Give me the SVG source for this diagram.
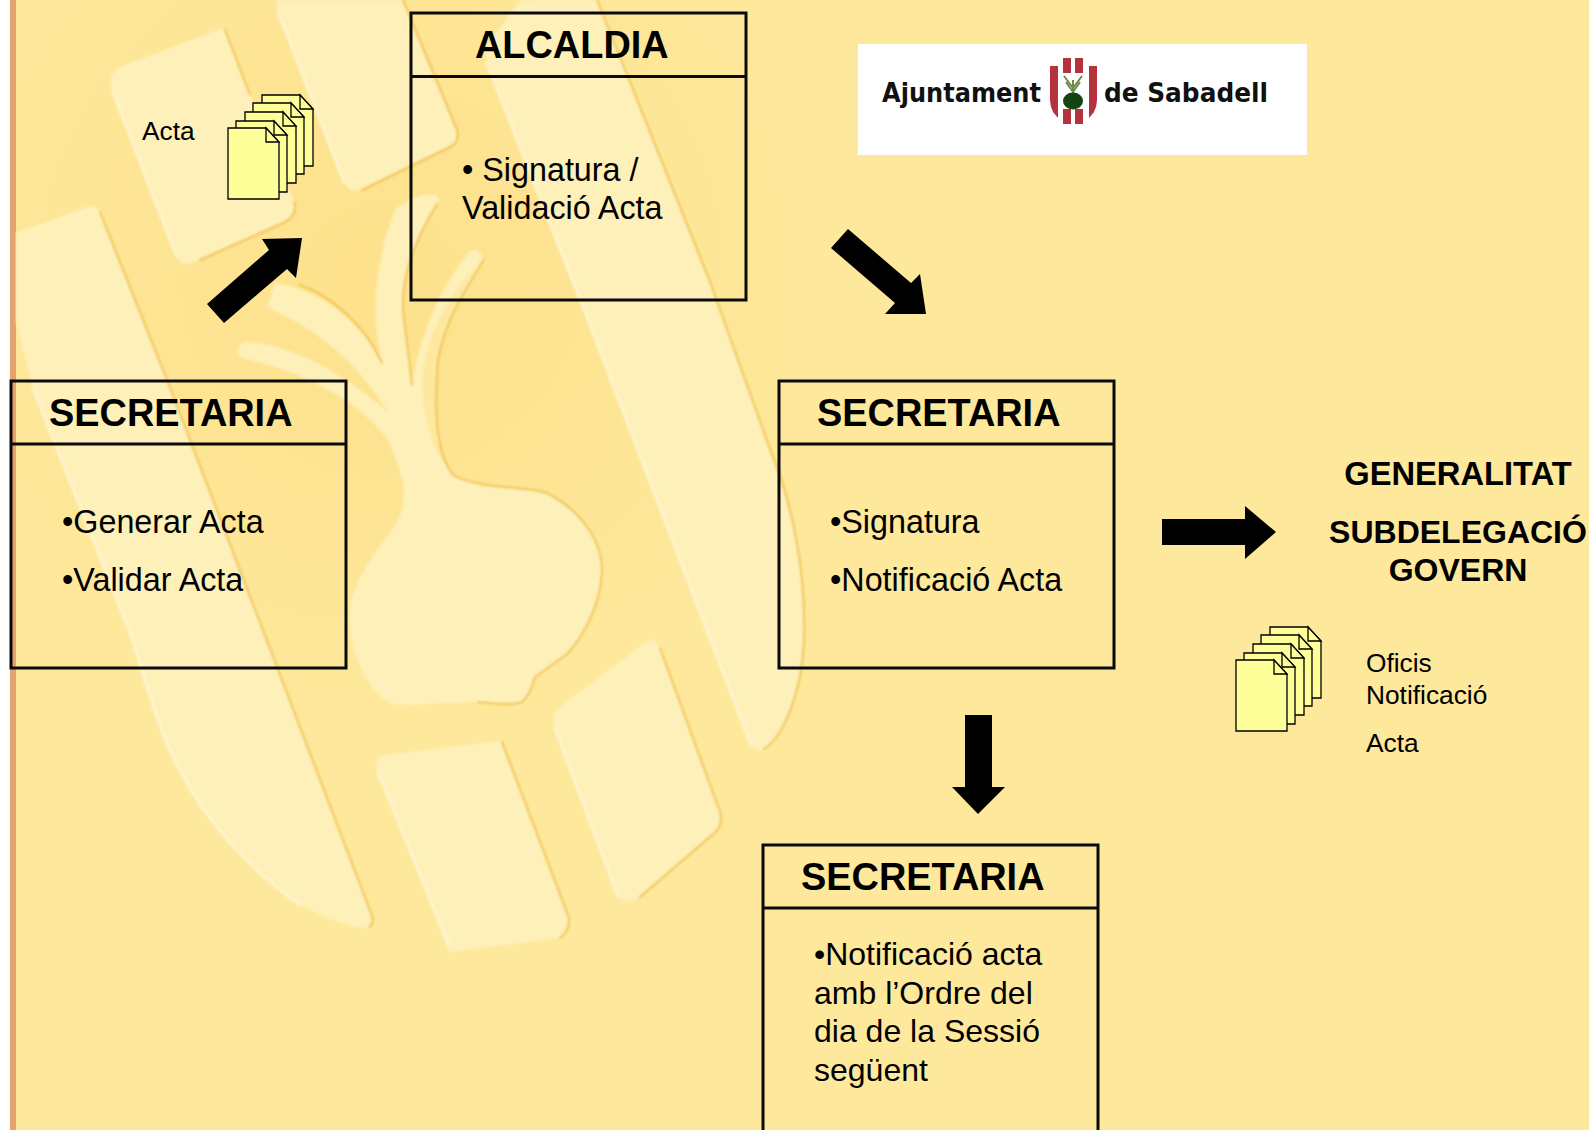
<svg xmlns="http://www.w3.org/2000/svg" width="1589" height="1130" viewBox="0 0 1589 1130">
<style>
text{font-family:"Liberation Sans",Arial,sans-serif;fill:#000}
.h{font-size:37.9px;font-weight:700}
.b{font-size:32.3px}
.n{font-size:32px}
.s{font-size:26.3px}
.g{font-size:32px;font-weight:700;text-anchor:middle}
.box{fill:none;stroke:#0a0a0a;stroke-width:3}
.wm{fill:#fef0b9}
.gap{fill:#fee8a0}
.edge{fill:none;stroke:#f1c451;stroke-width:2;stroke-linecap:round;stroke-linejoin:round}
.lite{fill:none;stroke:#fff5cf;stroke-width:3;stroke-linecap:round;stroke-linejoin:round}
.arrow{fill:#000}
.pg{fill:#ffff99;stroke:#000;stroke-width:1.3}
.logo{font-family:"DejaVu Sans",sans-serif;font-size:26px;font-weight:700;fill:#111}
.red{fill:#b5323f}
</style>
<defs>
<radialGradient id="shade" gradientUnits="userSpaceOnUse" cx="380" cy="280" r="450">
<stop offset="0" stop-color="#fde18c"/>
<stop offset="1" stop-color="#fee89b"/>
</radialGradient>
<filter id="soft" x="-5%" y="-5%" width="110%" height="110%"><feGaussianBlur stdDeviation="1.1"/></filter>
<g id="page"><path class="pg" d="M0,0H38L51,14V71H0Z"/><path class="pg" d="M38,0L51,14H38Z"/></g>
<g id="stack">
<use href="#page" x="34" y="-33"/>
<use href="#page" x="25" y="-25"/>
<use href="#page" x="17" y="-16"/>
<use href="#page" x="8" y="-7"/>
<use href="#page" x="0" y="0"/>
</g>
</defs>

<g id="background">
<rect width="1589" height="1130" fill="#fee89b"/>
<rect x="10" width="890" height="1000" fill="url(#shade)"/>
<rect x="0" width="10" height="1130" fill="#fff"/>
<rect x="10" width="6" height="1130" fill="#e6a26c"/>
<g filter="url(#soft)">
<path class="wm" d="M90,206L16,233V322L33,388L133,640C150,700 165,745 180,770C205,820 250,870 300,905C325,918 345,925 363,928Q374,928 372,916L277,667L167,380L102,216Q98,204 90,206Z"/>
<path class="edge" d="M100,212L167,380L277,667L372,916Q374,924 369,927"/>
<path class="lite" d="M33,388L133,640C150,700 165,745 180,770C205,820 250,870 300,905"/>
<path class="wm" d="M223,28L122,66Q106,74 112,90L176,257Q182,268 195,262L285,222Q298,215 294,202Z"/>
<path class="edge" d="M225,30L250,95M294,202Q298,215 285,222L200,260"/>
<path class="lite" d="M113,92L176,255"/>
<path class="wm" d="M277,0H403L457,130Q460,142 450,147L360,190Q350,194 344,182L277,12Z"/>
<path class="edge" d="M403,0L457,130Q460,142 450,147L362,190"/>
<path class="lite" d="M279,14L344,182"/>
<path class="wm" d="M597,0H520L484,50L751,745Q756,752 764,749C785,735 802,690 804,640C806,580 795,510 771,452L710,282Z"/>
<path class="edge" d="M597,0L710,282L771,452C795,510 806,580 804,640C802,690 785,735 764,749"/>
<path class="lite" d="M487,63L587,317L751,745"/>
<path class="wm" d="M470,251Q478,248 484,259C465,290 445,320 438,360C433,420 438,455 453,475C480,490 520,485 547,493C580,510 602,540 602,571C600,610 580,640 567,654L535,677Q530,695 522,702C505,708 490,700 478,702C450,702 420,706 392,704C365,690 349,650 349,617C352,570 390,540 400,516C408,490 404,479 388,440C360,400 300,370 241,358Q232,348 245,342C300,345 350,380 388,412C365,375 330,335 267,307L275,283C320,290 360,320 382,363C372,320 372,270 395,210Q420,190 437,196Q442,200 437,206C415,240 398,280 404,319L412,385C420,330 445,280 470,251Z"/>
<path class="gap" d="M478,264C462,290 445,320 438,360C433,400 437,445 450,470C432,450 423,420 422,385C424,340 445,300 478,264Z"/>
<path class="edge" d="M484,259C465,290 445,320 438,360C433,420 438,455 453,475C480,490 520,485 547,493C580,510 602,540 602,571C600,610 580,640 567,654L535,677Q530,695 522,702C510,706 495,703 478,702"/>
<path class="edge" d="M437,204C415,240 398,280 404,319L412,385"/>
<path class="edge" d="M300,285C330,295 365,325 382,363"/>
<path class="wm" d="M500,741L385,755Q372,758 378,772L449,952L560,938Q572,930 569,918Z"/>
<path class="edge" d="M502,742L569,918Q570,930 560,938"/>
<path class="lite" d="M378,772L449,945"/>
<path class="wm" d="M649,640L558,708Q550,716 555,728L618,896Q624,904 636,899L712,835Q724,826 720,812L660,648Q654,638 649,640Z"/>
<path class="edge" d="M660,648L720,812Q724,826 712,835L640,897"/>
<path class="lite" d="M555,728L618,896"/>
</g>
</g>

<g id="logo">
<rect x="858" y="44" width="449" height="111" fill="#fff"/>
<text class="logo" x="882" y="102" textLength="159" lengthAdjust="spacingAndGlyphs">Ajuntament</text>
<text class="logo" x="1104" y="102" textLength="164" lengthAdjust="spacingAndGlyphs">de Sabadell</text>
<path class="red" d="M1050,66H1058V118L1053,112Q1050,106 1050,100Z"/>
<path class="red" d="M1089,66H1097V100Q1097,106 1094,112L1089,118Z"/>
<rect class="red" x="1063" y="58" width="8" height="15"/>
<rect class="red" x="1075" y="58" width="8" height="15"/>
<rect class="red" x="1063" y="109" width="8" height="15"/>
<rect class="red" x="1075" y="109" width="8" height="15"/>
<path d="M1073,95V80M1073,88L1064,76M1073,88L1082,76M1073,92L1066,82M1073,92L1080,82" fill="none" stroke="#6f8a4a" stroke-width="2"/>
<ellipse cx="1073" cy="101" rx="10" ry="8.5" fill="#124512"/>
</g>

<g id="connectors">
<polygon class="arrow" points="302,238 262,239 269,250 207,304 224,323 287,269 296,278"/>
<polygon class="arrow" points="848,229 911,283 920,274 926,314 885,314 895,303 831,248"/>
<polygon class="arrow" points="1162,519 1245,519 1245,506 1276,532 1245,559 1245,545 1162,545"/>
<polygon class="arrow" points="965,715 992,715 992,787 1005,787 978,814 952,787 965,787"/>
</g>

<g id="alcaldia">
<rect class="box" x="411" y="13" width="335" height="287"/>
<line class="box" x1="411" y1="76.5" x2="746" y2="76.5"/>
<text class="h" x="475" y="58">ALCALDIA</text>
<text class="b" x="462" y="181">• Signatura /</text>
<text class="b" x="462" y="219">Validació Acta</text>
</g>

<g id="secretaria-1">
<rect class="box" x="11" y="381" width="335" height="287"/>
<line class="box" x1="11" y1="444" x2="346" y2="444"/>
<text class="h" x="49" y="426">SECRETARIA</text>
<text class="b" x="62" y="533">•Generar Acta</text>
<text class="b" x="62" y="591">•Validar Acta</text>
</g>

<g id="secretaria-2">
<rect class="box" x="779" y="381" width="335" height="287"/>
<line class="box" x1="779" y1="444" x2="1114" y2="444"/>
<text class="h" x="817" y="426">SECRETARIA</text>
<text class="b" x="830" y="533">•Signatura</text>
<text class="b" x="830" y="591">•Notificació Acta</text>
</g>

<g id="secretaria-3">
<rect class="box" x="763" y="845" width="335" height="300"/>
<line class="box" x1="763" y1="908" x2="1098" y2="908"/>
<text class="h" x="801" y="890">SECRETARIA</text>
<text class="n" x="814" y="965">•Notificació acta</text>
<text class="n" x="814" y="1004">amb l’Ordre del</text>
<text class="n" x="814" y="1042">dia de la Sessió</text>
<text class="n" x="814" y="1081">següent</text>
</g>

<g id="generalitat">
<text class="g" x="1458" y="485" style="font-size:32.7px">GENERALITAT</text>
<text class="g" x="1458" y="543">SUBDELEGACIÓ</text>
<text class="g" x="1458" y="581">GOVERN</text>
</g>

<g id="acta-docs">
<use href="#stack" x="228" y="128"/>
<text class="s" x="142" y="140">Acta</text>
</g>

<g id="oficis-docs">
<use href="#stack" x="1236" y="660"/>
<text class="s" x="1366" y="672">Oficis</text>
<text class="s" x="1366" y="704">Notificació</text>
<text class="s" x="1366" y="752">Acta</text>
</g>
</svg>
